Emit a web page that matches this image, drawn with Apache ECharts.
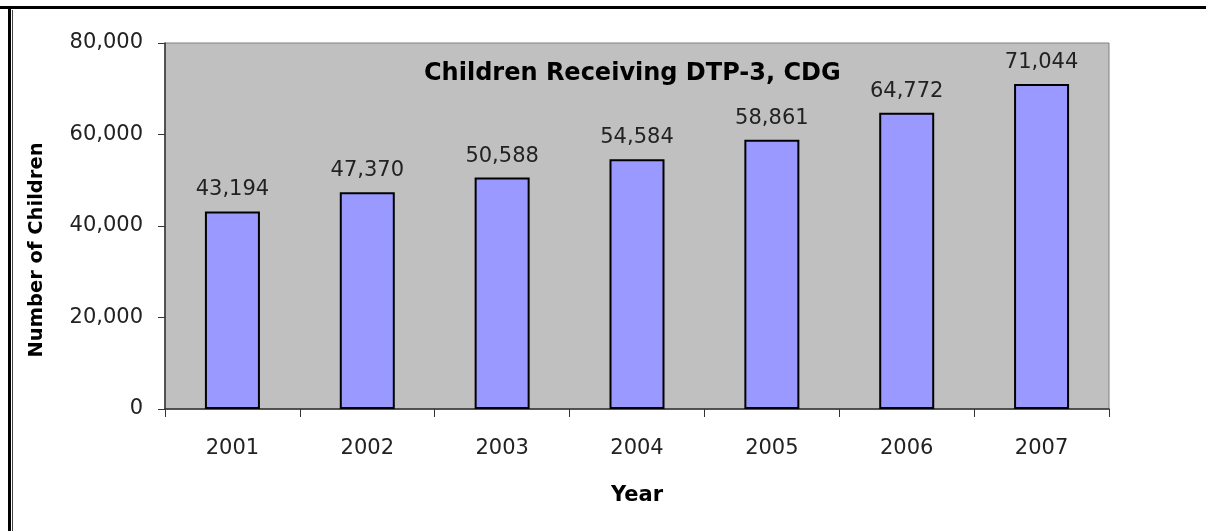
<!DOCTYPE html>
<html><head><meta charset="utf-8">
<script src="https://cdn.jsdelivr.net/npm/echarts@6/dist/echarts.min.js"></script>
<style>html,body{margin:0;padding:0;background:#fff}#c{width:1206px;height:531px}</style>
</head><body><div id="c"></div>
<script>
const categories = ['2001','2002','2003','2004','2005','2006','2007'];
const values = [43194, 47370, 50588, 54584, 58861, 64772, 71044];
const titleText = 'Children Receiving DTP-3, CDG';
const yName = 'Number of Children';
const xName = 'Year';

const chart = echarts.init(document.getElementById('c'), null, {renderer:'canvas'});
const F = 'DejaVu Sans, Verdana, sans-serif';
chart.setOption({
  animation:false,
  backgroundColor:'#fff',
  title:{text:titleText,left:419,top:57,textStyle:{fontFamily:F,fontSize:24,fontWeight:'bold',color:'#000'}},
  graphic:[
    {type:'rect',shape:{x:0,y:6,width:1206,height:3},style:{fill:'#000'}},
    {type:'rect',shape:{x:8,y:6,width:3,height:531},style:{fill:'#000'}},
    {type:'rect',shape:{x:12,y:10,width:1,height:531},style:{fill:'#444'}},
    {type:'text',x:37,y:250,rotation:Math.PI/2,
      style:{text:yName,fontFamily:F,fontSize:19.5,fontWeight:'bold',fill:'#000',align:'center',verticalAlign:'middle'}}
  ],
  grid:{left:165,top:43,right:97,bottom:122,show:true,backgroundColor:'#c0c0c0',borderColor:'#808080',borderWidth:1,containLabel:false},
  xAxis:{type:'category',data:categories,name:xName,nameLocation:'middle',nameGap:76,
    nameTextStyle:{fontFamily:F,fontSize:21,fontWeight:'bold',color:'#000'},
    axisLine:{lineStyle:{color:'#333',width:1.5}},
    axisTick:{show:true,length:8,lineStyle:{color:'#333'}},
    axisLabel:{fontFamily:F,fontSize:21,color:'#222',margin:29}},
  yAxis:{type:'value',min:0,max:80000,interval:20000,
    axisLine:{show:true,lineStyle:{color:'#333',width:1.5}},
    axisTick:{show:true,length:7,lineStyle:{color:'#333'}},
    splitLine:{show:false},
    axisLabel:{fontFamily:F,fontSize:21,color:'#222',margin:22,formatter:v=>v.toLocaleString('en-US')}},
  series:[{type:'bar',data:values,barWidth:55,
    itemStyle:{color:'#9999ff',borderColor:'#000',borderWidth:2},
    label:{show:true,position:'top',distance:11,fontFamily:F,fontSize:21,color:'#222',formatter:p=>p.value.toLocaleString('en-US')}}]
});
</script></body></html>
